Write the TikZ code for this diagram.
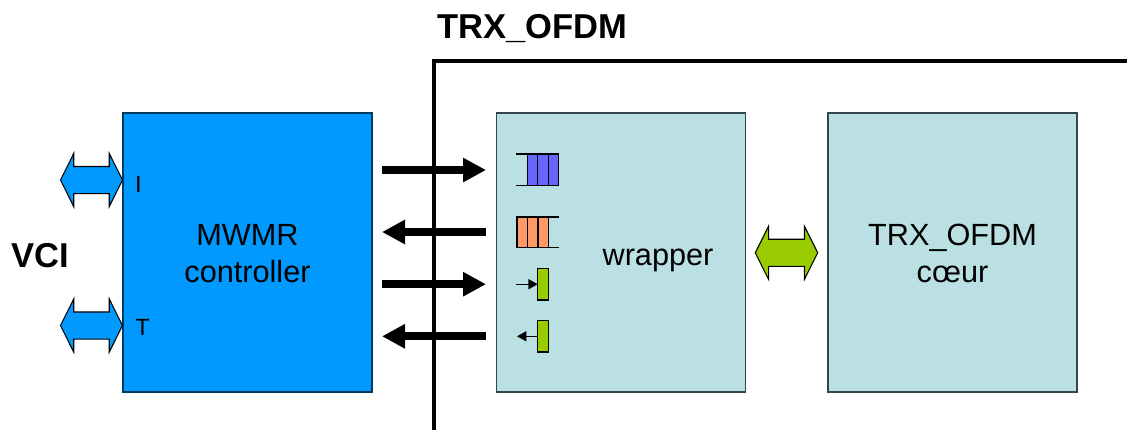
\documentclass[tikz,border=0pt]{standalone}
\usepackage{fontspec}
\setmainfont{Liberation Sans}
\usetikzlibrary{arrows.meta,shapes.arrows}
\definecolor{ctrlblue}{HTML}{0099FF}
\definecolor{ctrledge}{HTML}{003A5C}
\definecolor{teal}{HTML}{BBE0E3}
\definecolor{tealedge}{HTML}{33464A}
\definecolor{lime}{HTML}{99CC00}
\definecolor{fifoblue}{HTML}{6666FF}
\definecolor{fifoorange}{HTML}{FF9966}
\tikzset{
  bigbox/.style={draw,line width=1.1pt,minimum width=186.75pt,minimum height=209.25pt,inner sep=0pt,outer sep=0pt},
  boxtext/.style={inner sep=0pt,align=center,font=\fontsize{23}{27.4}\selectfont},
  dblarrow/.style={double arrow,draw=black,line width=.8pt,inner xsep=0pt,inner ysep=9.75pt,outer sep=0pt,minimum height=#1,double arrow head extend=9.75pt,double arrow head indent=0pt,double arrow tip angle=127,miter limit=10},
  thickarrow/.style={line width=6pt,-{Triangle[length=17.25pt,width=17.25pt]}},
  thinarrow/.style={line width=1pt,-{Triangle[length=7pt,width=7.5pt]}},
  cell/.style={draw=black,line width=1pt,minimum width=7.9pt,minimum height=#1,inner sep=0pt,outer sep=0pt},
  lbl/.style={inner sep=0pt,font=\fontsize{17.6}{20}\selectfont},
  boldlbl/.style={inner sep=0pt,font=\fontsize{25.9}{30}\selectfont\bfseries},
}
\begin{document}
\begin{tikzpicture}[x=.75pt,y=-.75pt]
\useasboundingbox (0,0) rectangle (1127,430);
% thick arrows end points
\coordinate (a1l) at (382,170);  \coordinate (a1r) at (486,170);
\coordinate (a2l) at (382,232);  \coordinate (a2r) at (486,232);
\coordinate (a3l) at (382,284.2);  \coordinate (a3r) at (486,284.2);
\coordinate (a4l) at (382,336.3);  \coordinate (a4r) at (486,336.3);
\coordinate (corner) at (434,61);
\coordinate (lineb) at (434,430);
\coordinate (liner) at (1127,61);
% boxes
\node[bigbox,fill=ctrlblue,draw=ctrledge] (ctrl) at (247.5,252.5) {};
\node[bigbox,fill=teal,draw=tealedge] (wrap) at (621,252.5) {};
\node[bigbox,fill=teal,draw=tealedge] (core) at (952.5,252.5) {};
\node[boxtext] (ctrltext) at (247.5,253.5) {MWMR\\controller};
\node[boxtext] (coretext) at (952.5,253.5) {TRX\_OFDM\\cœur};
\node[boxtext] (wraptext) at (658,260) {wrapper};
% module boundary
\draw[line width=3pt,line cap=butt,miter limit=10] (lineb) -- (corner) -- (liner);
% titles
\node[boldlbl] (title) at (532,28.5) {TRX\_OFDM};
\node[boldlbl] (vci) at (40,256) {VCI};
\node[lbl] (ilabel) at (138.5,184) {I};
\node[lbl] (tlabel) at (142.5,327) {T};
% double arrows
\node[dblarrow=46.5pt,fill=ctrlblue] (vi) at (91.5,180) {};
\node[dblarrow=46.5pt,fill=ctrlblue] (vt) at (91.5,325.5) {};
\node[dblarrow=46.8pt,fill=lime] (link) at (786.5,252.8) {};
% thick arrows
\draw[thickarrow] (a1l) -- (a1r);
\draw[thickarrow] (a2r) -- (a2l);
\draw[thickarrow] (a3l) -- (a3r);
\draw[thickarrow] (a4r) -- (a4l);
% blue fifo
\node[cell=23.5pt,fill=fifoblue] (b1) at (532.5,169.7) {};
\node[cell=23.5pt,fill=fifoblue] (b2) at (543,169.7) {};
\node[cell=23.5pt,fill=fifoblue] (b3) at (553.5,169.7) {};
\draw[line width=1pt] (b1.north west) -- ++(-10.8,0);
\draw[line width=1pt] (b1.south west) -- ++(-10.8,0);
% orange fifo
\node[cell=23pt,fill=fifoorange] (o1) at (522.3,232.3) {};
\node[cell=23pt,fill=fifoorange] (o2) at (532.8,232.3) {};
\node[cell=23pt,fill=fifoorange] (o3) at (543.3,232.3) {};
\draw[line width=1pt] (o3.north east) -- ++(10.8,0);
\draw[line width=1pt] (o3.south east) -- ++(10.8,0);
% registers
\node[cell=23.7pt,fill=lime] (r1) at (543,284.2) {};
\node[cell=23.7pt,fill=lime] (r2) at (543,336.3) {};
\coordinate (s1) at (516,284.2);
\coordinate (s2) at (517,336.3);
\draw[thinarrow] (s1) -- (r1.west);
\draw[thinarrow] (r2.west) -- (s2);
\end{tikzpicture}
\end{document}
